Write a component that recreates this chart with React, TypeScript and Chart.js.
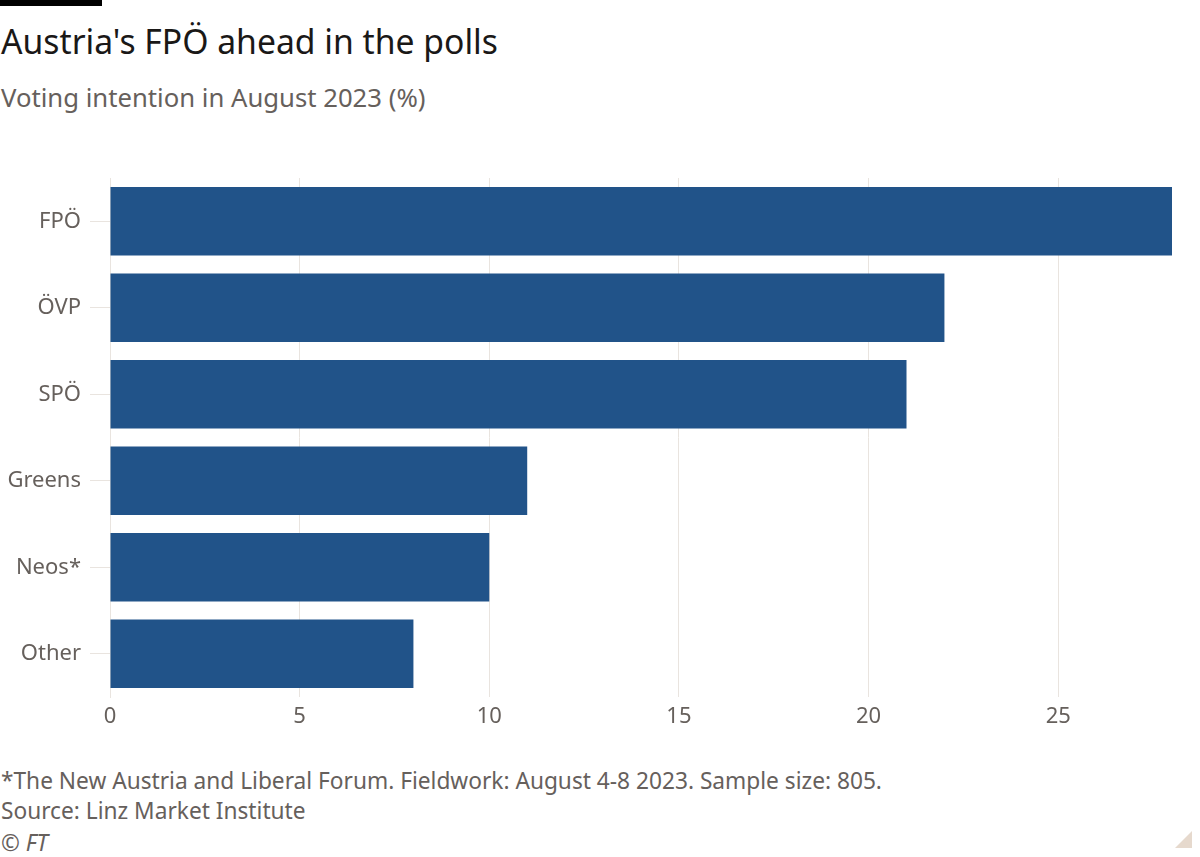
import React, { useEffect, useRef } from "react";
import { Chart, registerables } from "chart.js";

Chart.register(...registerables);

const categories = ["FPÖ", "ÖVP", "SPÖ", "Greens", "Neos*", "Other"];
const values = [28, 22, 21, 11, 10, 8];
const xTicks = [0, 5, 10, 15, 20, 25];

const FONT = "'Noto Sans', sans-serif";
const GREY = "#66605c";
const GRID = "#e9e4df";

export default function App() {
  const ref = useRef<HTMLCanvasElement | null>(null);

  useEffect(() => {
    document.body.style.margin = "0";
    document.body.style.background = "#ffffff";
    const ctx = ref.current!;
    const chart = new Chart(ctx, {
      type: "bar",
      data: {
        labels: categories,
        datasets: [
          {
            data: values,
            backgroundColor: "#215389",
            borderWidth: 0,
            barPercentage: 0.79,
            categoryPercentage: 1,
          },
        ],
      },
      options: {
        indexAxis: "y",
        animation: false,
        responsive: false,
        devicePixelRatio: 1,
        layout: { padding: { top: 28, right: 28, left: 0, bottom: 0 } },
        plugins: { legend: { display: false }, tooltip: { enabled: false } },
        scales: {
          x: {
            min: 0,
            max: 28,
            afterFit: (s: any) => {
              s.height = 53;
            },
            afterBuildTicks: (s: any) => {
              s.ticks = xTicks.map((v) => ({ value: v }));
            },
            grid: { color: GRID, lineWidth: 1, drawTicks: false },
            border: { display: false },
            ticks: {
              color: GREY,
              font: { family: FONT, size: 22 },
              padding: 7,
            },
          },
          y: {
            afterFit: (s: any) => {
              s.width = 110;
            },
            grid: {
              color: "transparent",
              tickColor: GRID,
              tickLength: 20,
              offset: false,
              drawOnChartArea: false,
            },
            border: { display: true, color: GRID },
            ticks: {
              color: GREY,
              font: { family: FONT, size: 22 },
              padding: 9,
            },
          },
        },
      },
    });
    return () => chart.destroy();
  }, []);

  const base: React.CSSProperties = {
    position: "absolute",
    left: 1,
    margin: 0,
    fontFamily: FONT,
    whiteSpace: "nowrap",
    lineHeight: 1,
  };

  return (
    <div style={{ position: "relative", width: 1200, height: 857, background: "#fff", overflow: "hidden" }}>
      <div style={{ position: "absolute", left: 0, top: 0, width: 102, height: 6, background: "#000" }} />
      <div style={{ ...base, top: 25, fontSize: 33.7, color: "#1a1817" }}>Austria's FPÖ ahead in the polls</div>
      <div style={{ ...base, top: 85, fontSize: 25.7, color: GREY }}>Voting intention in August 2023 (%)</div>
      <canvas
        ref={ref}
        width={1200}
        height={600}
        style={{ position: "absolute", left: 0, top: 150, width: 1200, height: 600 }}
      />
      <div style={{ ...base, top: 770, fontSize: 22.7, color: GREY }}>
        *The New Austria and Liberal Forum. Fieldwork: August 4-8 2023. Sample size: 805.
      </div>
      <div style={{ ...base, top: 800, fontSize: 22.7, color: GREY }}>Source: Linz Market Institute</div>
      <div style={{ ...base, top: 832, fontSize: 22.7, color: GREY, fontStyle: "italic" }}>© FT</div>
      <div
        style={{
          position: "absolute",
          left: 1175,
          top: 831,
          width: 0,
          height: 0,
          borderLeft: "17px solid transparent",
          borderBottom: "17px solid #e6d9cd",
        }}
      />
    </div>
  );
}
